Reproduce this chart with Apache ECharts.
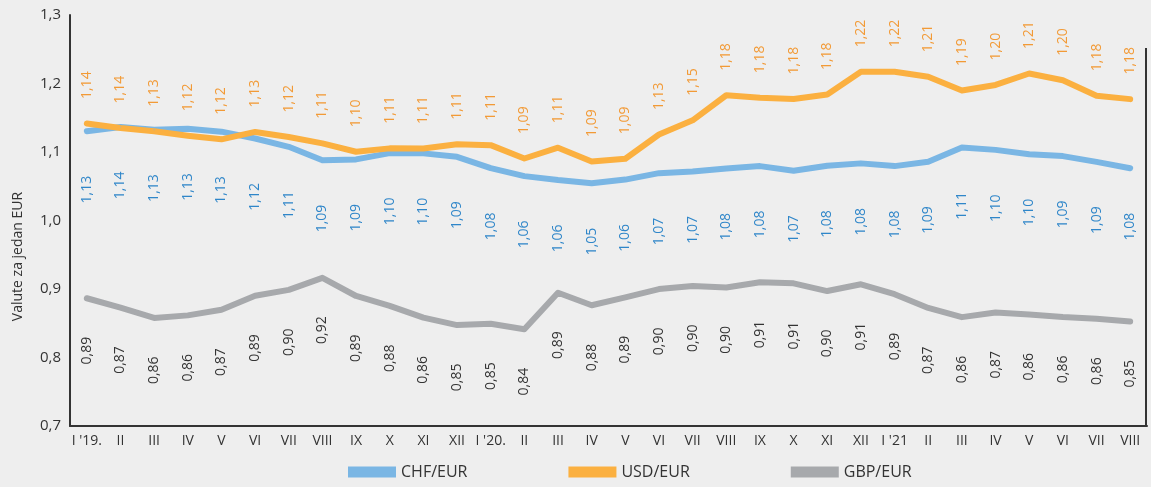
<!DOCTYPE html>
<html><head><meta charset="utf-8">
<script src="https://cdn.jsdelivr.net/npm/echarts@6/dist/echarts.min.js"></script>
<style>html,body{margin:0;padding:0;background:#eeeeee;}#c{width:1151px;height:487px;}</style>
</head><body><div id="c"></div>
<script>
const categories = ["I '19.","II","III","IV","V","VI","VII","VIII","IX","X","XI","XII",
  "I '20.","II","III","IV","V","VI","VII","VIII","IX","X","XI","XII",
  "I '21","II","III","IV","V","VI","VII","VIII"];
const chfEur = [1.1303,1.1365,1.1325,1.1340,1.1297,1.1197,1.1076,1.0880,1.0892,1.0984,1.0980,1.0930,
  1.0765,1.0648,1.0591,1.0545,1.0597,1.0691,1.0714,1.0760,1.0794,1.0727,1.0800,1.0834,
  1.0794,1.0858,1.1065,1.1031,1.0968,1.0940,1.0856,1.0762];
const usdEur = [1.1416,1.1351,1.1302,1.1238,1.1185,1.1293,1.1218,1.1126,1.1004,1.1053,1.1051,1.1113,
  1.1100,1.0905,1.1063,1.0862,1.0902,1.1255,1.1463,1.1828,1.1792,1.1775,1.1838,1.2170,
  1.2171,1.2098,1.1899,1.1979,1.2146,1.2047,1.1822,1.1772];
const gbpEur = [0.8865,0.8727,0.8577,0.8615,0.8696,0.8902,0.8987,0.9163,0.8898,0.8753,0.8583,0.8473,
  0.8492,0.8412,0.8945,0.8763,0.8878,0.8999,0.9045,0.9021,0.9099,0.9083,0.8970,0.9069,
  0.8924,0.8723,0.8589,0.8658,0.8629,0.8590,0.8564,0.8526];
const seriesNames = ["CHF/EUR","USD/EUR","GBP/EUR"];
const yAxisName = "Valute za jedan EUR";

const FONT = "Open Sans";
const fmt = v => v.toFixed(2).replace('.', ',');
const chart = echarts.init(document.getElementById('c'));

function mkSeries(name, data, color, labelColor, below, dist) {
  return {
    name, type: 'line', data,
    symbol: 'circle', symbolSize: 1, showSymbol: true,
    lineStyle: { width: 6, color, cap: 'round', join: 'round' },
    itemStyle: { color },
    emphasis: { disabled: true },
    label: {
      show: true, position: below ? 'bottom' : 'top', distance: dist,
      rotate: 90, align: below ? 'right' : 'left', verticalAlign: 'middle',
      formatter: p => fmt(p.value), color: labelColor,
      fontFamily: FONT, fontSize: 14
    }
  };
}

chart.setOption({
  backgroundColor: '#eeeeee',
  animation: false,
  grid: { left: 70, right: 4, top: 15, bottom: 61 },
  legend: {
    bottom: 2, left: 343, itemWidth: 48, itemHeight: 11, itemGap: 101,
    icon: 'rect',
    textStyle: { fontFamily: FONT, fontSize: 16, color: '#333' },
    data: seriesNames
  },
  xAxis: {
    type: 'category', data: categories, boundaryGap: true,
    axisLine: { lineStyle: { color: '#333', width: 2 } },
    axisTick: { show: false },
    axisLabel: { color: '#333', fontFamily: FONT, fontSize: 14, margin: 8, interval: 0 }
  },
  yAxis: {
    type: 'value', min: 0.7, max: 1.3, interval: 0.1,
    name: yAxisName, nameLocation: 'middle', nameGap: 45,
    nameTextStyle: { fontFamily: FONT, fontSize: 14, color: '#333', padding: [0, 72, 0, 0] },
    splitLine: { show: false },
    axisLine: { show: true, lineStyle: { color: '#333', width: 2 } },
    axisTick: { show: false },
    axisLabel: { color: '#333', fontFamily: FONT, fontSize: 15, margin: 9,
      formatter: v => v.toFixed(1).replace('.', ',') }
  },
  graphic: [{
    type: 'line', shape: { x1: 1146, y1: 48, x2: 1146, y2: 426 },
    style: { stroke: '#333', lineWidth: 2 }
  }],
  series: [
    mkSeries(seriesNames[0], chfEur, '#7ab6e4', '#2f86c9', true, 44),
    mkSeries(seriesNames[1], usdEur, '#fbb040', '#f29a36', false, 24),
    mkSeries(seriesNames[2], gbpEur, '#a7a9ac', '#333333', true, 38)
  ]
});
</script></body></html>
